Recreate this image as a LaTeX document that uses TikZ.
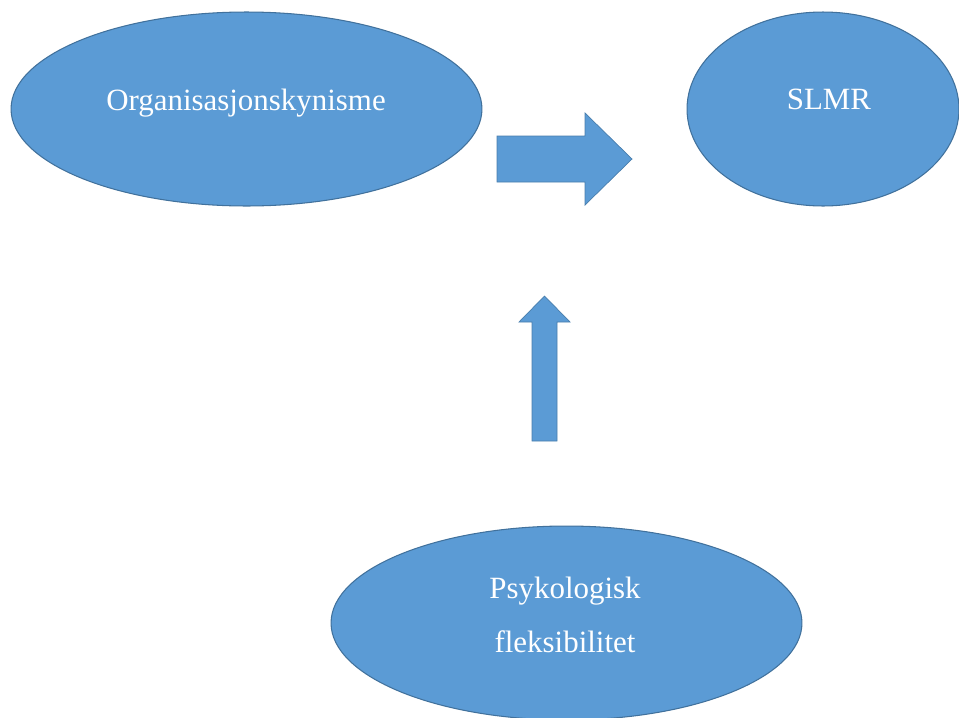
\documentclass[tikz,border=0pt]{standalone}
\usepackage{fontspec}
\setmainfont{Liberation Serif}
\usetikzlibrary{shapes.geometric}
\definecolor{wordblue}{HTML}{5B9BD5}
\definecolor{wordedge}{HTML}{41719C}
\tikzset{
    bubble/.style={ellipse, draw=wordedge, line width=0.6pt, fill=wordblue, inner sep=0pt},
    bubbletext/.style={text=white, font=\fontsize{17.6}{30.7}\selectfont, align=center},
    blockarrow/.style={fill=wordblue, draw=wordedge!70!wordblue, line width=0.4pt}
}
\begin{document}
\begin{tikzpicture}[x=0.02cm, y=-0.02cm]
            \clip (0,0) rectangle (959,717);
            \useasboundingbox (0,0) rectangle (959,717);
            \node[bubble, minimum width=9.42cm, minimum height=3.88cm] (cyn) at (246.5,109) {};
            \node[bubbletext] (cyntext) at (246,103) {Organisasjonskynisme};
            \node[bubble, minimum width=5.44cm, minimum height=3.88cm] (slmr) at (823,109) {};
            \node[bubbletext] (slmrtext) at (829,99.5) {SLMR};
            \node[bubble, minimum width=9.42cm, minimum height=3.88cm] (psy) at (566.5,623) {};
            \node[bubbletext] (psytext) at (565,614.5) {Psykologisk\\fleksibilitet};

            \draw[blockarrow] (497,136) -- (585,136) -- (585,113) -- (632,159)
                -- (585,205) -- (585,182) -- (497,182) -- cycle;
            \draw[blockarrow] (532,441) -- (532,322) -- (519,322) -- (544.5,296)
                -- (570,322) -- (557,322) -- (557,441) -- cycle;
        \end{tikzpicture}
\end{document}
